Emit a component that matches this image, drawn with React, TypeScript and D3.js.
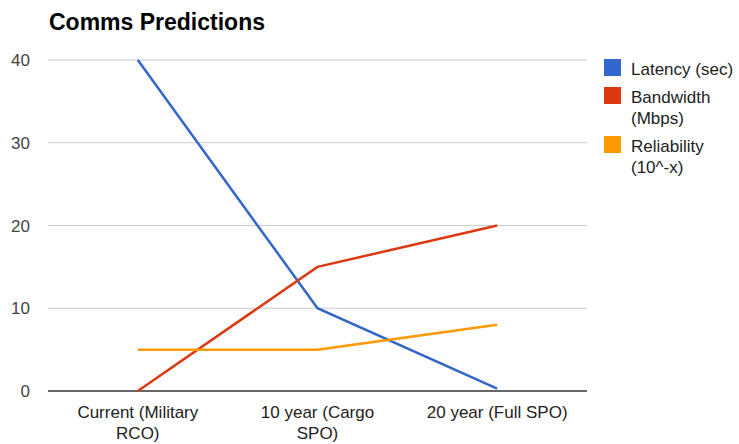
import React from "react";
import * as d3 from "d3";

const categories = ["Current (Military RCO)", "10 year (Cargo SPO)", "20 year (Full SPO)"];
const categoryLines = [["Current (Military", "RCO)"], ["10 year (Cargo", "SPO)"], ["20 year (Full SPO)"]];
const latency = [40, 10, 0.3];
const bandwidth = [0, 15, 20];
const reliability = [5, 5, 8];
const seriesNames = ["Latency (sec)", "Bandwidth (Mbps)", "Reliability (10^-x)"];
const legendLines = [["Latency (sec)"], ["Bandwidth", "(Mbps)"], ["Reliability", "(10^-x)"]];
const yTicks = [0, 10, 20, 30, 40];
const colors = ["#3366cc", "#dc3912", "#ff9900"];

export default function App() {
  const W = 739, H = 444;
  const left = 48, right = 587, top = 60, bottom = 391;
  const x = d3.scalePoint<string>().domain(categories).range([left, right]).padding(0.5);
  const y = d3.scaleLinear().domain([0, 40]).range([bottom, top]);
  const series = [latency, bandwidth, reliability];
  const line = d3.line<number>().x((_, i) => x(categories[i])!).y((d) => y(d));
  const font = "Arial, 'Liberation Sans', sans-serif";
  const legendBase = [75, 103, 152];
  return (
    <svg width={W} height={H} style={{ position: "absolute", left: 0, top: 0, fontFamily: font }}>
      <rect width={W} height={H} fill="#fff" />
      <text x={49} y={30} fontSize={23} fontWeight="bold" fill="#000">Comms Predictions</text>
      {yTicks.map((t) => (
        <g key={t}>
          <line x1={left} x2={right} y1={y(t)} y2={y(t)} stroke={t === 0 ? "#333" : "#ccc"} strokeWidth={t === 0 ? 1.5 : 1} />
          <text x={30} y={y(t) + 6} textAnchor="end" fontSize={17} fill="#444">{t}</text>
        </g>
      ))}
      {series.map((s, i) => (
        <path key={seriesNames[i]} d={line(s)!} fill="none" stroke={colors[i]} strokeWidth={2.5} />
      ))}
      {categories.map((c, i) => (
        <text key={c} x={x(c)} y={418} textAnchor="middle" fontSize={17} fill="#222">
          {categoryLines[i].map((l, j) => (
            <tspan key={j} x={x(c)} dy={j === 0 ? 0 : 21}>{l}</tspan>
          ))}
        </text>
      ))}
      {seriesNames.map((n, i) => (
        <g key={n}>
          <rect x={604} y={legendBase[i] - 16} width={17} height={17} fill={colors[i]} />
          <text x={631} y={legendBase[i]} fontSize={17} fill="#222">
            {legendLines[i].map((l, j) => (
              <tspan key={j} x={631} dy={j === 0 ? 0 : 21}>{l}</tspan>
            ))}
          </text>
        </g>
      ))}
    </svg>
  );
}
